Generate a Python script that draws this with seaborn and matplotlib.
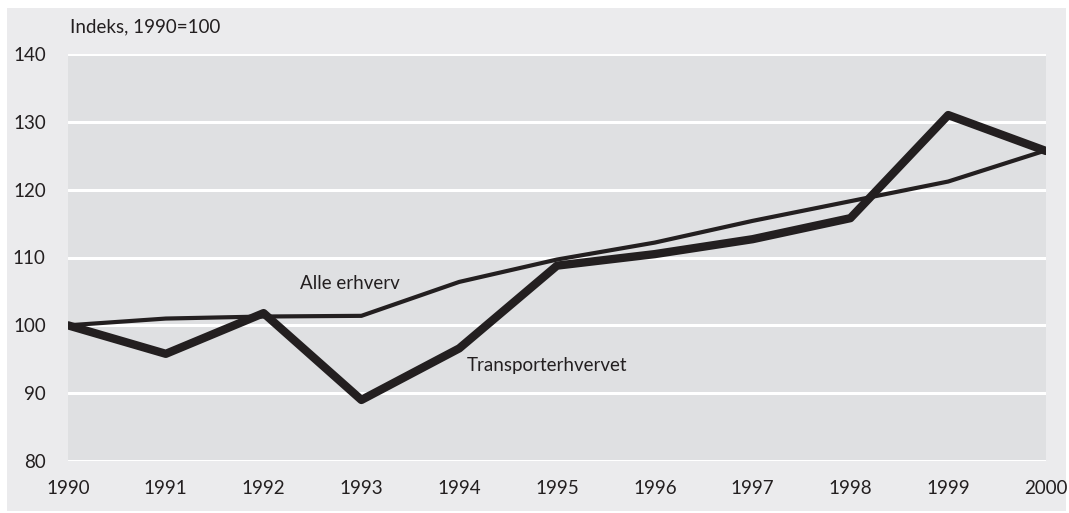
import matplotlib
matplotlib.use("Agg")
import matplotlib.pyplot as plt
from matplotlib.patches import Rectangle
import pandas as pd
import seaborn as sns

years = [1990, 1991, 1992, 1993, 1994, 1995, 1996, 1997, 1998, 1999, 2000]
alle_erhverv = [100, 101.0, 101.3, 101.4, 106.4, 109.7, 112.2, 115.4, 118.3, 121.2, 125.8]
transport = [100, 95.8, 101.8, 89.0, 96.6, 108.8, 110.5, 112.7, 115.8, 131.0, 125.7]
y_ticks = [80, 90, 100, 110, 120, 130, 140]

df = pd.DataFrame({"aar": years, "Alle erhverv": alle_erhverv,
                   "Transporterhvervet": transport})

sns.set_style("darkgrid", {
    "axes.facecolor": "#dfe0e2",
    "grid.color": "white",
    "axes.edgecolor": "none",
})
plt.rcParams["font.family"] = ["Lato", "DejaVu Sans"]

ink = "#231f20"
fs = 13.5
fig = plt.figure(figsize=(10.69, 5.13), dpi=100, facecolor="white")
# lys graa ramme bag hele figuren
fig.patches.append(Rectangle((7 / 1069, 2 / 513), 1059 / 1069, 503 / 513,
                             transform=fig.transFigure, facecolor="#ebebed",
                             edgecolor="none", zorder=-10))
ax = fig.add_axes([68 / 1069, 52 / 513, 978 / 1069, 407 / 513])

sns.lineplot(data=df, x="aar", y="Transporterhvervet", color=ink,
             linewidth=6.0, ax=ax)
sns.lineplot(data=df, x="aar", y="Alle erhverv", color=ink,
             linewidth=3.0, ax=ax)

ax.set_xlim(years[0], years[-1])
ax.set_ylim(y_ticks[0], y_ticks[-1])
ax.set_xticks(years)
ax.set_yticks(y_ticks)
ax.grid(axis="x", visible=False)
ax.grid(axis="y", color="white", linewidth=2.2)
ax.tick_params(axis="both", length=0, labelsize=fs, colors=ink)
ax.tick_params(axis="y", pad=16)
ax.tick_params(axis="x", pad=14)
ax.set_xlabel("")
ax.set_ylabel("")

ax.text(1992.37, 106.2, "Alle erhverv", fontsize=fs, color=ink, va="center")
ax.text(1994.08, 94.1, "Transporterhvervet", fontsize=fs, color=ink, va="center")
fig.text(70 / 1069, 1 - 27 / 513, "Indeks, 1990=100", fontsize=fs, color=ink,
         va="center", ha="left")

fig.savefig("out.png", dpi=100, facecolor=fig.get_facecolor())
